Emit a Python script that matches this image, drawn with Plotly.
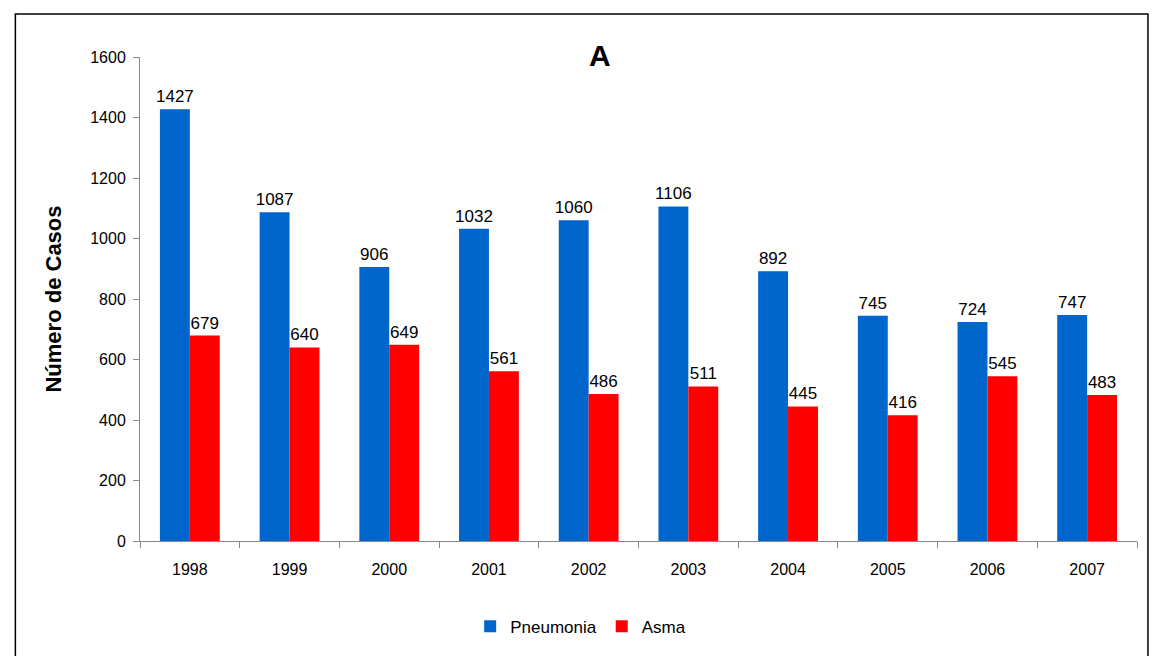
import plotly.graph_objects as go

years = ["1998", "1999", "2000", "2001", "2002", "2003", "2004", "2005", "2006", "2007"]
pneumonia = [1427, 1087, 906, 1032, 1060, 1106, 892, 745, 724, 747]
asma = [679, 640, 649, 561, 486, 511, 445, 416, 545, 483]

fig = go.Figure()
fig.add_trace(go.Bar(
    x=years, y=pneumonia, name="Pneumonia",
    marker=dict(color="#0066CC", line_width=0),
    text=pneumonia, textposition="outside", cliponaxis=False,
    textfont=dict(size=17, color="black"),
))
fig.add_trace(go.Bar(
    x=years, y=asma, name="Asma",
    marker=dict(color="#FF0000", line_width=0),
    text=asma, textposition="outside", cliponaxis=False,
    textfont=dict(size=17, color="black"),
))

fig.update_layout(
    width=1160, height=656,
    barmode="group", bargap=0.4, bargroupgap=0,
    uniformtext=dict(minsize=17, mode="show"),
    paper_bgcolor="white", plot_bgcolor="white",
    font=dict(family="Liberation Sans, Arial", size=16, color="black"),
    margin=dict(l=132, r=31, t=49, b=123),
    showlegend=True,
    legend=dict(orientation="h", x=0.442, xanchor="center", y=-0.14, yanchor="top",
                font=dict(size=17)),
    xaxis=dict(showline=True, linecolor="#888", ticks="outside", tickcolor="#888",
               tickson="boundaries", ticklen=6, showgrid=False, ticklabelstandoff=14),
    yaxis=dict(range=[0, 1600], dtick=200, showline=True, linecolor="#888",
               ticks="outside", tickcolor="#888", ticklen=6, showgrid=False,
               ticklabelstandoff=4,
               title=dict(text="<b>Número de Casos</b>", font=dict(size=22), standoff=22)),
    annotations=[dict(text="<b>A</b>", xref="paper", yref="paper", x=0.461, y=1.004,
                      xanchor="center", yanchor="middle", showarrow=False,
                      font=dict(size=30))],
    shapes=[dict(type="rect", xref="paper", yref="paper", x0=-0.125, x1=1.011,
                 y0=-0.27, y1=1.089, line=dict(color="black", width=1.5))],
)

fig.write_html("out.html")
